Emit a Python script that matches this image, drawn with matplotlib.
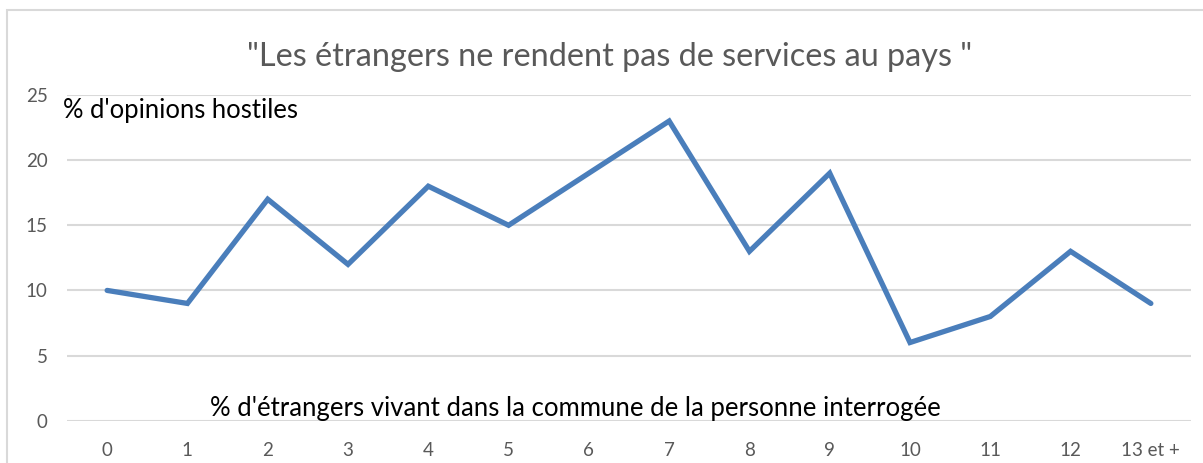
import matplotlib
matplotlib.use("Agg")
import matplotlib.pyplot as plt
from matplotlib.patches import Rectangle

categories = ["0", "1", "2", "3", "4", "5", "6", "7", "8", "9", "10", "11", "12", "13 et +"]
values = [10, 9, 17, 12, 18, 15, 19, 23, 13, 19, 6, 8, 13, 9]
yticks = [0, 5, 10, 15, 20, 25]
title = "\"Les étrangers ne rendent pas de services au pays \""
ylabel_text = "% d'opinions hostiles"
xlabel_text = "% d'étrangers vivant dans la commune de la personne interrogée"

W, H = 1203, 463
FONT = "Lato"
plt.rcParams['font.family'] = [FONT, 'DejaVu Sans']

fig = plt.figure(figsize=(W / 100, H / 100), dpi=100)
fig.patch.set_facecolor("white")

# chart border
fig.patches.append(Rectangle((7 / W, -0.05), 1.2, 1 - 10 / H + 0.05, transform=fig.transFigure,
                             fill=False, edgecolor="#D9D9D9", linewidth=1.5))

ax_left, ax_right = 67 / W, 1191 / W
ax_bottom = 1 - 420.7 / H
ax_top = 1 - 95 / H
ax = fig.add_axes([ax_left, ax_bottom, ax_right - ax_left, ax_top - ax_bottom])
ax.set_facecolor("none")

x = list(range(len(categories)))
ax.plot(x, values, color="#4A7EBB", linewidth=3.8, solid_joinstyle="miter",
        solid_capstyle="round", zorder=3)

ax.set_xlim(-0.5, len(categories) - 0.5)
ax.set_ylim(0, 25)
ax.set_yticks(yticks)
ax.set_xticks(x)
ax.set_xticklabels(categories)
ax.yaxis.grid(True, color="#D9D9D9", linewidth=1.5, zorder=0)
ax.set_axisbelow(True)
for s in ax.spines.values():
    s.set_visible(False)
ax.tick_params(axis="both", length=0, colors="#595959", labelsize=13.5)
ax.tick_params(axis="x", pad=15)
ax.tick_params(axis="y", pad=14)
for lbl in ax.get_xticklabels() + ax.get_yticklabels():
    lbl.set_color("#595959")

fig.canvas.draw()
renderer = fig.canvas.get_renderer()


def fit_text(txt, x0, x1, ybase, color, ha="left"):
    t = fig.text(x0 / W, 1 - ybase / H, txt, ha="left", va="baseline", color=color, fontsize=16)
    w = t.get_window_extent(renderer).width
    t.set_fontsize(16 * (x1 - x0) / w)
    return t


fit_text(title, 247, 975, 66, "#595959")
fit_text(ylabel_text, 63, 298, 118, "black")
fit_text(xlabel_text, 210, 943, 416, "black")

fig.savefig("out.png", dpi=100)
